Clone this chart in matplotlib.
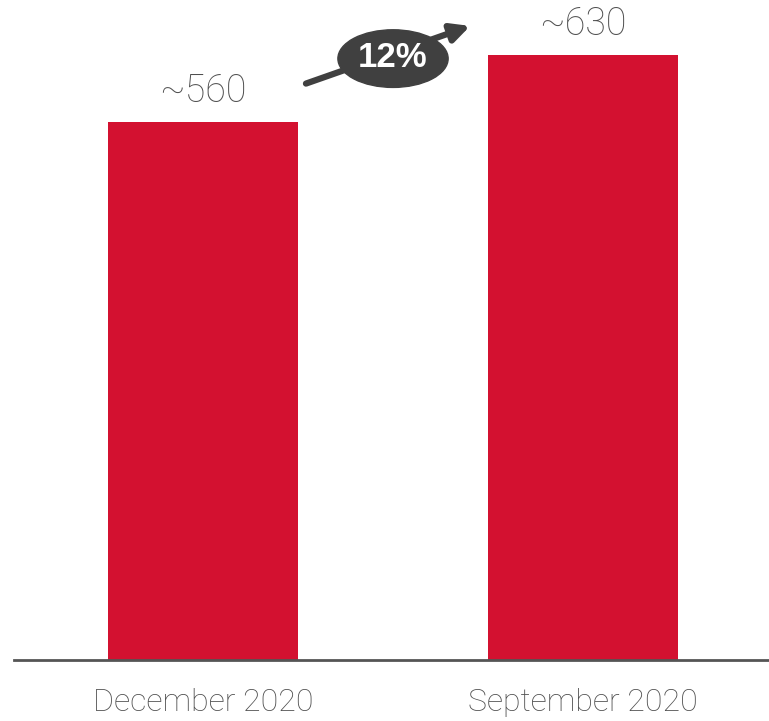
import matplotlib
matplotlib.use('Agg')
import matplotlib.pyplot as plt
from matplotlib.patches import Ellipse

categories = ['December 2020', 'September 2020']
values = [560, 630]
value_labels = ['~560', '~630']
growth_label = '12%'

bar_color = '#D31130'
text_color = '#4F4F4F'
dark = '#404040'

plt.rcParams['font.family'] = ['Roboto', 'DejaVu Sans']

fig = plt.figure(figsize=(7.69, 7.21), dpi=100)
ax = fig.add_axes([14 / 769, 61 / 721, 755 / 769, 660 / 721])

x = list(range(len(categories)))
ax.bar(x, values, width=0.5, color=bar_color, zorder=2)

ax.set_xlim(-0.497, 1.489)
ax.set_ylim(0, 687)

for xi, v, lab in zip(x, values, value_labels):
    ax.text(xi, v + 12, lab, ha='center', va='bottom', fontsize=27,
            fontweight='light', color=text_color)

# growth arrow between the bar tops
ax.annotate('', xy=(0.703, values[1] + 30), xytext=(0.271, values[0] + 40),
            arrowprops=dict(arrowstyle='-|>,head_length=1.1,head_width=0.55',
                            color=dark, lw=4.5, shrinkA=0, shrinkB=0),
            zorder=3)
ax.add_patch(Ellipse((0.5, 626), 0.29, 60, color=dark, zorder=4))
ax.text(0.5, 627, growth_label, ha='center', va='center', fontsize=25,
        fontweight='bold', color='white', zorder=5,
        family=['Liberation Sans', 'DejaVu Sans'])

ax.set_xticks(x)
ax.set_xticklabels(categories, fontsize=23, fontweight='light', color=text_color)
ax.tick_params(axis='x', length=0, pad=20)
ax.set_yticks([])
for s in ['top', 'right', 'left']:
    ax.spines[s].set_visible(False)
ax.spines['bottom'].set_color('#555555')
ax.spines['bottom'].set_linewidth(2)

fig.savefig('out.png', dpi=100)
